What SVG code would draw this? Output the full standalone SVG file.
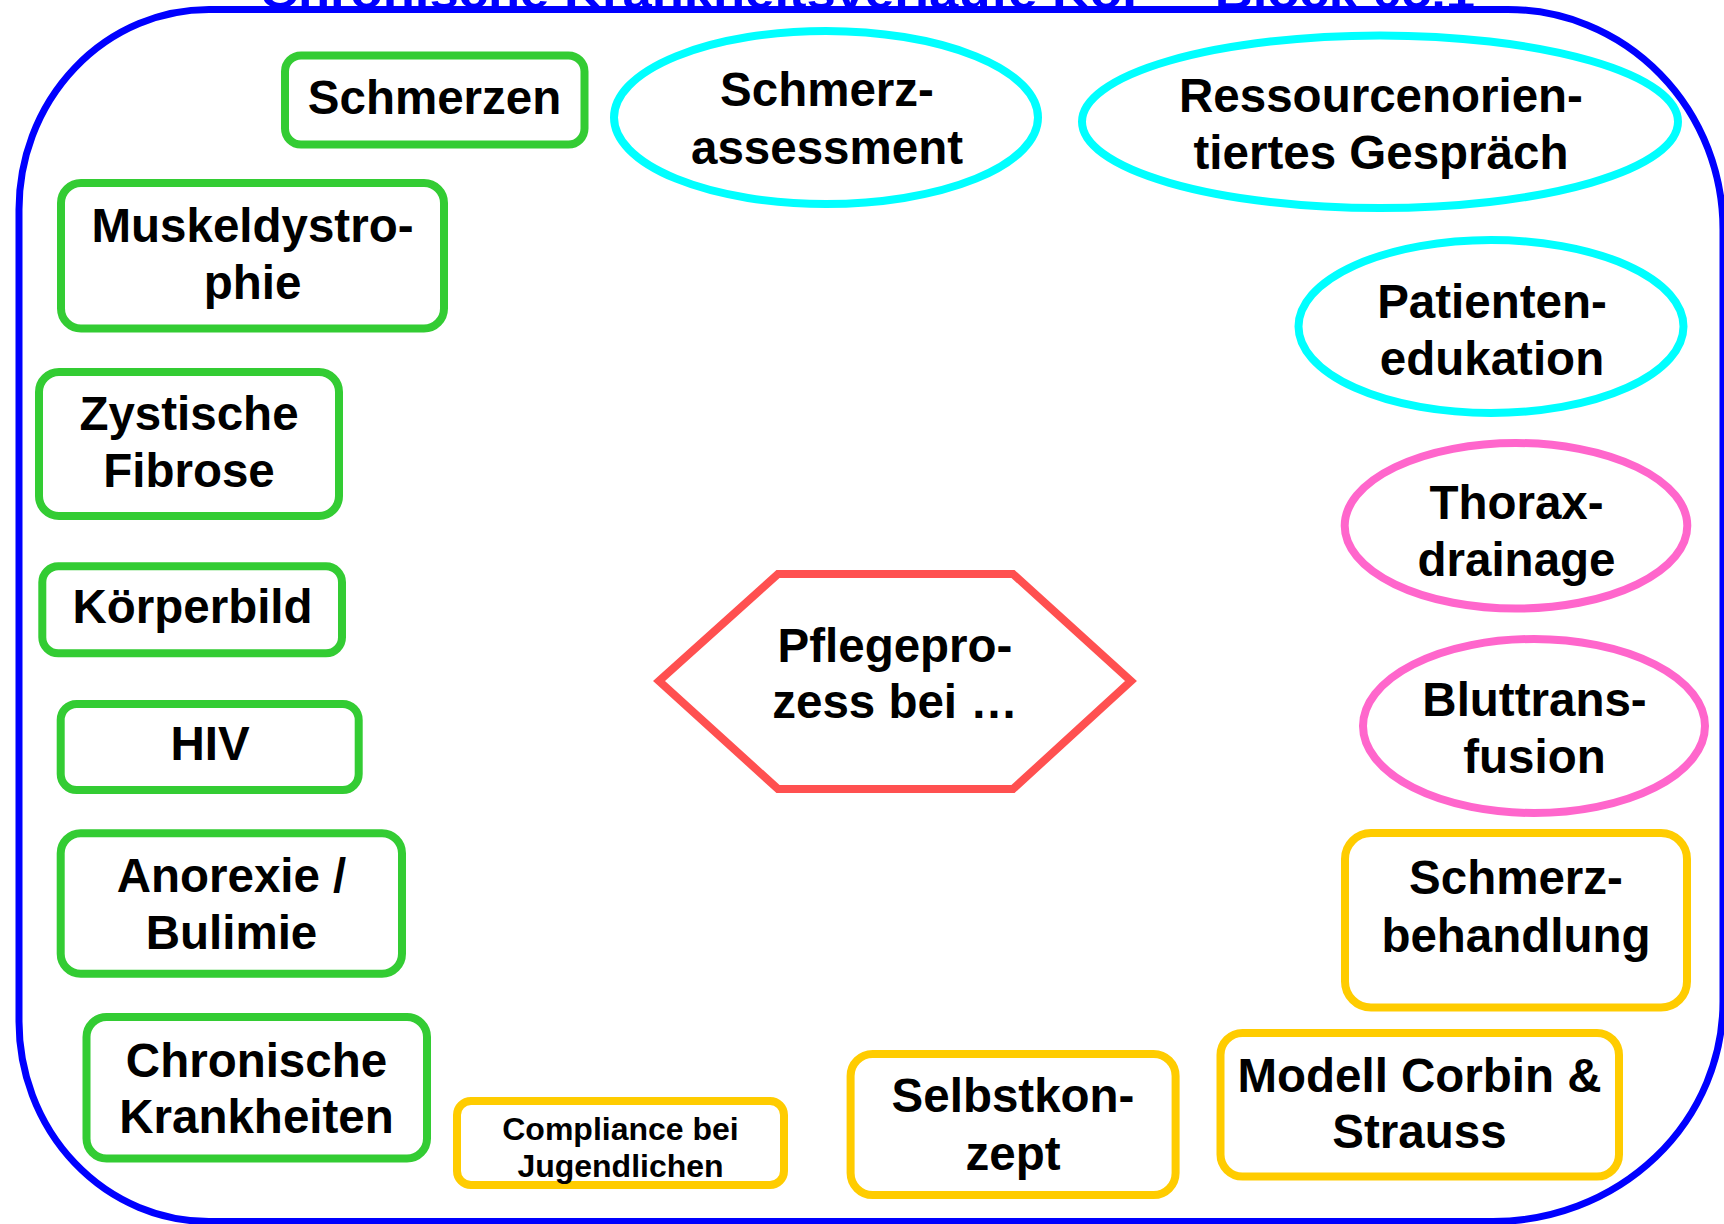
<svg xmlns="http://www.w3.org/2000/svg" width="1724" height="1224" viewBox="0 0 1724 1224">
<style>
  .t { font-family: "Liberation Sans", Arial, sans-serif; font-weight: bold; font-size: 47.5px; fill: #000; text-anchor: middle; }
  .s { font-size: 32px; }
  .g { fill: #fff; stroke: #33CC33; stroke-width: 8; }
  .y { fill: #fff; stroke: #FFCC00; stroke-width: 8; }
  .c { fill: #fff; stroke: #00FFFF; stroke-width: 8; }
  .p { fill: #fff; stroke: #FF66CC; stroke-width: 8; }
  .r { fill: #fff; stroke: #FF5050; stroke-width: 8; stroke-linejoin: miter; }
</style>
<rect width="1724" height="1224" fill="#fff"/>
<g id="frame">
  <path d="M209,9.5 L1508,9.5 A215,220 0 0 1 1723,229.5 L1723,1001.5 A230,220 0 0 1 1493,1221.5 L209,1221.5 A190,200 0 0 1 19,1021.5 L19,209.5 A190,200 0 0 1 209,9.5 Z" fill="none" stroke="#0000FF" stroke-width="7"/>
</g>
<g id="title">
  <text x="260" y="8" font-family="Liberation Sans, Arial, sans-serif" font-weight="bold" font-size="44" fill="#0000FF" textLength="1215" lengthAdjust="spacingAndGlyphs">Chronische Krankheitsverläufe KoP – Block 05.1</text>
  <rect x="260" y="8" width="1215" height="4" fill="#0000FF"/>
</g>
<g id="connectors"></g>

<g id="schmerzen">
  <rect class="g" x="285" y="55.5" width="299.5" height="89" rx="16"/>
  <text class="t" x="434.5" y="113.5">Schmerzen</text>
</g>
<g id="muskeldystrophie">
  <rect class="g" x="61" y="183" width="383" height="145.5" rx="20"/>
  <text class="t" x="252.5" y="241.7">Muskeldystro-</text>
  <text class="t" x="252.5" y="299.3">phie</text>
</g>
<g id="zystische-fibrose">
  <rect class="g" x="39" y="372" width="300" height="144" rx="20"/>
  <text class="t" x="189" y="430">Zystische</text>
  <text class="t" x="189" y="486.7">Fibrose</text>
</g>
<g id="koerperbild">
  <rect class="g" x="42.3" y="566.3" width="299.7" height="87" rx="16"/>
  <text class="t" x="192.5" y="622.7">Körperbild</text>
</g>
<g id="hiv">
  <rect class="g" x="60.7" y="704" width="298" height="86" rx="16"/>
  <text class="t" x="210" y="760">HIV</text>
</g>
<g id="anorexie">
  <rect class="g" x="60.7" y="833.3" width="341.3" height="140.4" rx="20"/>
  <text class="t" x="231.5" y="891.7">Anorexie /</text>
  <text class="t" x="231.5" y="949">Bulimie</text>
</g>
<g id="chronische-krankheiten">
  <rect class="g" x="86.5" y="1017" width="340.5" height="141.5" rx="20"/>
  <text class="t" x="256.5" y="1076.7">Chronische</text>
  <text class="t" x="256.5" y="1133.3">Krankheiten</text>
</g>

<g id="compliance">
  <rect class="y" x="457" y="1101" width="327" height="84" rx="14"/>
  <text class="t s" x="620.5" y="1140">Compliance bei</text>
  <text class="t s" x="620.5" y="1176.7">Jugendlichen</text>
</g>
<g id="selbstkonzept">
  <rect class="y" x="850.6" y="1054" width="325" height="141" rx="22"/>
  <text class="t" x="1013" y="1111.7">Selbstkon-</text>
  <text class="t" x="1013" y="1170">zept</text>
</g>
<g id="modell-corbin-strauss">
  <rect class="y" x="1220.5" y="1033" width="398.5" height="143.5" rx="22"/>
  <text class="t" x="1419.5" y="1091.7">Modell Corbin &amp;</text>
  <text class="t" x="1419.5" y="1148.3">Strauss</text>
</g>
<g id="schmerzbehandlung">
  <rect class="y" x="1345" y="833" width="342" height="174.5" rx="26"/>
  <text class="t" x="1516" y="894">Schmerz-</text>
  <text class="t" x="1516" y="951.7">behandlung</text>
</g>

<g id="schmerzassessment">
  <ellipse class="c" cx="826" cy="117.5" rx="212" ry="86.5"/>
  <text class="t" x="827" y="105.5">Schmerz-</text>
  <text class="t" x="827" y="163.5">assessment</text>
</g>
<g id="ressourcenorientiertes-gespraech">
  <ellipse class="c" cx="1380" cy="121.8" rx="298" ry="86.3"/>
  <text class="t" x="1381" y="112">Ressourcenorien-</text>
  <text class="t" x="1381" y="168.5">tiertes Gespräch</text>
</g>
<g id="patientenedukation">
  <ellipse class="c" cx="1491" cy="326.5" rx="192.5" ry="86.5"/>
  <text class="t" x="1492" y="317.6">Patienten-</text>
  <text class="t" x="1492" y="375">edukation</text>
</g>

<g id="thoraxdrainage">
  <ellipse class="p" cx="1516" cy="525.8" rx="171.3" ry="82.8"/>
  <text class="t" x="1516.5" y="518.5">Thorax-</text>
  <text class="t" x="1516.5" y="576">drainage</text>
</g>
<g id="bluttransfusion">
  <ellipse class="p" cx="1534" cy="726" rx="171" ry="87"/>
  <text class="t" x="1534.5" y="715.6">Bluttrans-</text>
  <text class="t" x="1534.5" y="773">fusion</text>
</g>

<g id="pflegeprozess">
  <polygon class="r" points="659,681 778,574 1013,574 1131,681 1013,789 778,789"/>
  <text class="t" x="895" y="661.7">Pflegepro-</text>
  <text class="t" x="895" y="718.3">zess bei …</text>
</g>
</svg>
